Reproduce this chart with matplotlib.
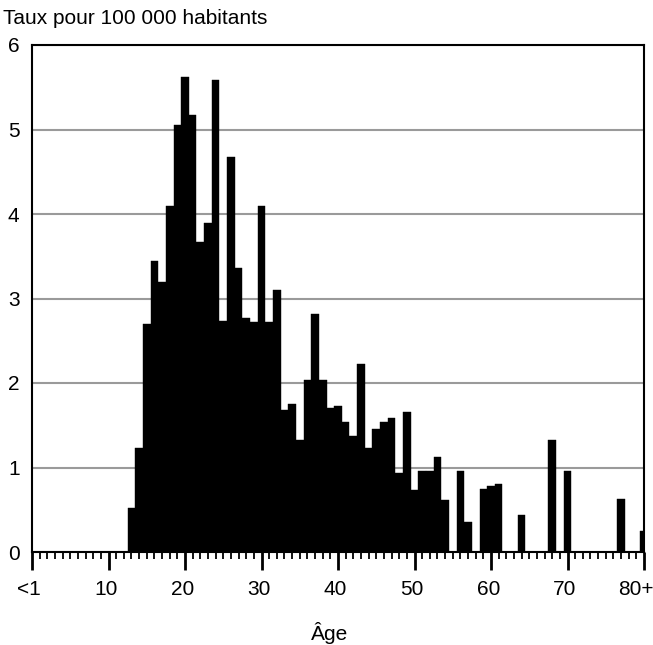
import numpy as np
import matplotlib as mpl
import matplotlib.pyplot as plt

plt.rcParams['font.family'] = ['Liberation Sans', 'DejaVu Sans']

ages = np.arange(0, 81)
# taux pour 100 000 habitants, par âge (<1 ... 80+)
rates = [0] * 13 + [
    0.52, 1.23, 2.70, 3.44, 3.20, 4.10, 5.05, 5.62, 5.17, 3.67,   # 13-22
    3.89, 5.58, 2.73, 4.67, 3.36, 2.77, 2.72, 4.10, 2.72, 3.10,   # 23-32
    1.68, 1.75, 1.32, 2.04, 2.82, 2.04, 1.70, 1.73, 1.54, 1.37,   # 33-42
    2.23, 1.23, 1.46, 1.54, 1.58, 0.94, 1.66, 0.73, 0.96, 0.96,   # 43-52
    1.13, 0.61, 0.00, 0.96, 0.35, 0.00, 0.75, 0.78, 0.80, 0.00,   # 53-62
    0.00, 0.44, 0.00, 0.00, 0.00, 1.32, 0.00, 0.96, 0.00, 0.00,   # 63-72
    0.00, 0.00, 0.00, 0.00, 0.63, 0.00, 0.00, 0.25,               # 73-80
]
major_pos = np.arange(0, 81, 10)
major_labels = ['<1', '10', '20', '30', '40', '50', '60', '70', '80+']

fig = plt.figure(figsize=(6.53, 6.45), dpi=100)
ax = fig.add_axes([32/653, 93/645, 612/653, 507/645])

ax.bar(ages, rates, width=1.0, color='black', edgecolor='black', linewidth=0.3, zorder=2)

ax.set_xlim(0, 80)
ax.set_ylim(0, 6)
ax.set_yticks(range(7))
ax.tick_params(axis='y', length=0, labelsize=15, pad=9)
ax.yaxis.grid(True, color='#9a9a9a', linewidth=1.5, zorder=0)
ax.set_axisbelow(True)

ax.set_xticks(major_pos)
ax.set_xticklabels(major_labels)
ax.set_xticks(ages, minor=True)
ax.tick_params(axis='x', which='major', direction='out', length=13, width=2, labelsize=15, pad=7)
ax.tick_params(axis='x', which='minor', direction='out', length=5, width=1.3)
for lab in ax.get_xticklabels():
    lab.set_transform(lab.get_transform() + mpl.transforms.ScaledTranslation(-2/72, 0, fig.dpi_scale_trans))
last = ax.get_xticklabels()[-1]
last.set_transform(last.get_transform() + mpl.transforms.ScaledTranslation(-4/72, 0, fig.dpi_scale_trans))

for s in ax.spines.values():
    s.set_color('black')
    s.set_linewidth(1.5)

fig.text(330/653, 1 - 622/645, 'Âge', fontsize=15, va='top', ha='center')
fig.text(3/653, 1 - 18/645, 'Taux pour 100 000 habitants', fontsize=15, va='center', ha='left')

fig.savefig('out.png', dpi=100)
